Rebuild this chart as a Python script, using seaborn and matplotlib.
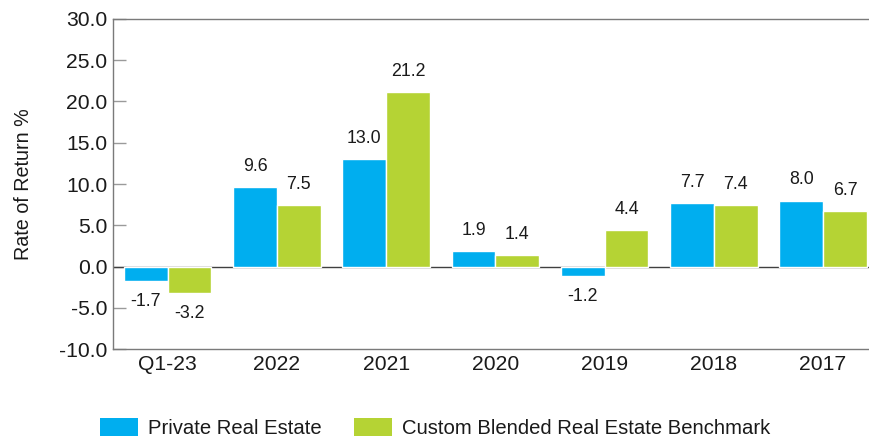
import matplotlib
matplotlib.use("Agg")
import matplotlib.pyplot as plt
from matplotlib.patches import Patch
from matplotlib.ticker import FormatStrFormatter, MultipleLocator
import pandas as pd
import seaborn as sns

# Returns by period
periods = ["Q1-23", "2022", "2021", "2020", "2019", "2018", "2017"]
series_names = ["Private Real Estate", "Custom Blended Real Estate Benchmark"]
private_re = [-1.7, 9.6, 13.0, 1.9, -1.2, 7.7, 8.0]
benchmark = [-3.2, 7.5, 21.2, 1.4, 4.4, 7.4, 6.7]
colors = ["#00AEEF", "#B5D334"]

df = pd.DataFrame({
    "Period": periods * 2,
    "Series": [series_names[0]] * len(periods) + [series_names[1]] * len(periods),
    "Return": private_re + benchmark,
})

sns.set_style("white")
plt.rcParams["font.family"] = ["Liberation Sans", "DejaVu Sans"]
plt.rcParams["axes.unicode_minus"] = False

W, H = 869, 440
fig = plt.figure(figsize=(W / 100, H / 100), dpi=100)
ax = fig.add_axes([113 / W, 1 - 349 / H, 1 - 113 / W, (349 - 19) / H])

sns.barplot(data=df, x="Period", y="Return", hue="Series", order=periods,
            hue_order=series_names, palette=colors, saturation=1, width=0.8,
            edgecolor="white", linewidth=1.0, errorbar=None, ax=ax, zorder=2)

if ax.get_legend() is not None:
    ax.get_legend().remove()

# zero reference line, partly hidden behind bars
ax.axhline(0, color="#404040", linewidth=1.0, zorder=1)

for cont in ax.containers:
    ax.bar_label(cont, fmt="%.1f", padding=8.7, fontsize=12.8, color="#1a1a1a")

ax.set_xlim(-0.5, 6.42)
ax.set_ylim(-10, 30)
ax.yaxis.set_major_locator(MultipleLocator(5))
ax.yaxis.set_major_formatter(FormatStrFormatter("%.1f"))

ax.set_xlabel("")
ax.set_ylabel("Rate of Return %", fontsize=14.2, color="#1a1a1a", labelpad=19)

ax.tick_params(axis="y", direction="in", length=9, width=1, color="#9a9a9a",
               labelsize=15.2, labelcolor="#1a1a1a", pad=4, left=True)
ax.tick_params(axis="x", length=0, labelsize=15.2, labelcolor="#1a1a1a", pad=4)

for side in ["left", "top", "bottom"]:
    ax.spines[side].set_visible(True)
    ax.spines[side].set_color("#7a7a7a")
    ax.spines[side].set_linewidth(1.0)
ax.spines["right"].set_visible(False)

handles = [Patch(facecolor=c, edgecolor="none") for c in colors]
fig.legend(handles, series_names, loc="center left",
           bbox_to_anchor=(100 / W, 1 - 428 / H), ncol=2, frameon=False,
           fontsize=14.6, handlelength=1.87, handleheight=0.95,
           handletextpad=0.5, columnspacing=1.6, borderpad=0, borderaxespad=0,
           labelcolor="#1a1a1a")

fig.savefig("out.png", dpi=100)
